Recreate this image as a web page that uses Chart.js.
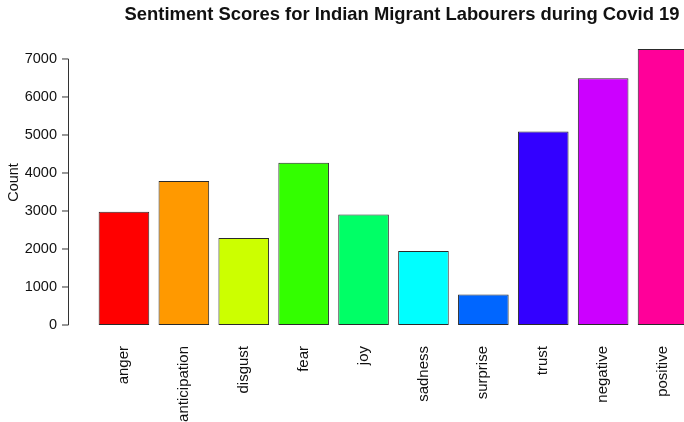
<!DOCTYPE html>
<html>
<head>
<meta charset="utf-8">
<script src="https://cdn.jsdelivr.net/npm/chart.js@4/dist/chart.umd.min.js"></script>
<style>
  html, body { margin: 0; padding: 0; overflow: hidden; background: #fff; }
  #wrap { width: 804px; height: 422px; }
</style>
</head>
<body>
<div id="wrap"><canvas id="c" width="804" height="422"></canvas></div>
<script>
const categories = ['anger', 'anticipation', 'disgust', 'fear', 'joy', 'sadness', 'surprise', 'trust', 'negative', 'positive'];
const counts = [2980, 3790, 2290, 4270, 2910, 1950, 800, 5090, 6490, 7260];
const barColors = ['#FF0000', '#FF9900', '#CCFF00', '#33FF00', '#00FF66', '#00FFFF', '#0066FF', '#3300FF', '#CC00FF', '#FF0099'];
const yTicks = [0, 1000, 2000, 3000, 4000, 5000, 6000, 7000];
const titleText = 'Sentiment Scores for Indian Migrant Labourers during Covid 19';
const yTitle = 'Count';

const FONT = "'Liberation Sans', Arial, sans-serif";
const INK = '#111';

const axisLinePlugin = {
  id: 'rAxis',
  afterDraw(chart) {
    const y = chart.scales.y;
    const ctx = chart.ctx;
    const x = 68.5;
    ctx.save();
    ctx.strokeStyle = '#333';
    ctx.lineWidth = 1;
    ctx.beginPath();
    ctx.moveTo(x, y.getPixelForValue(yTicks[0]));
    ctx.lineTo(x, y.getPixelForValue(yTicks[yTicks.length - 1]));
    yTicks.forEach(v => {
      const py = y.getPixelForValue(v);
      ctx.moveTo(x, py);
      ctx.lineTo(x - 6.5, py);
    });
    ctx.stroke();
    ctx.restore();
  }
};

new Chart(document.getElementById('c'), {
  type: 'bar',
  data: {
    labels: categories,
    datasets: [{
      data: counts,
      backgroundColor: barColors,
      borderColor: '#2a2a2a',
      borderWidth: 1,
      borderSkipped: false,
      categoryPercentage: 1,
      barPercentage: 0.845
    }]
  },
  options: {
    responsive: false,
    animation: false,
    devicePixelRatio: 1,
    layout: { padding: 0 },
    plugins: {
      legend: { display: false },
      tooltip: { enabled: false },
      title: {
        display: true,
        text: titleText,
        color: INK,
        font: { family: FONT, size: 18.4, weight: 'bold', lineHeight: 1.2 },
        padding: { top: 4, bottom: 13.9 }
      }
    },
    scales: {
      x: {
        offset: true,
        grid: { display: false, drawTicks: false, tickLength: 0 },
        border: { display: false },
        ticks: {
          autoSkip: false,
          minRotation: 90,
          maxRotation: 90,
          padding: 21,
          color: INK,
          font: { family: FONT, size: 15 }
        },
        afterFit(s) { s.height = 97; s.paddingLeft = 0; s.paddingRight = 0; }
      },
      y: {
        min: 0,
        max: 7500,
        grid: { display: false, drawTicks: false, tickLength: 0 },
        border: { display: false },
        ticks: {
          padding: 37,
          color: INK,
          font: { family: FONT, size: 14.5 },
          callback: v => String(v)
        },
        afterBuildTicks(s) { s.ticks = yTicks.map(v => ({ value: v })); },
        title: {
          display: true,
          text: yTitle,
          color: INK,
          font: { family: FONT, size: 14.5 },
          padding: { top: 5, bottom: 0 }
        },
        afterFit(s) { s.width = 94; s.paddingTop = 0; s.paddingBottom = 0; }
      },
      yR: {
        position: 'right',
        display: true,
        grid: { display: false, drawTicks: false },
        border: { display: false },
        ticks: { display: false },
        afterFit(s) { s.width = 111; s.paddingTop = 0; s.paddingBottom = 0; }
      }
    }
  },
  plugins: [axisLinePlugin]
});
</script>
</body>
</html>
